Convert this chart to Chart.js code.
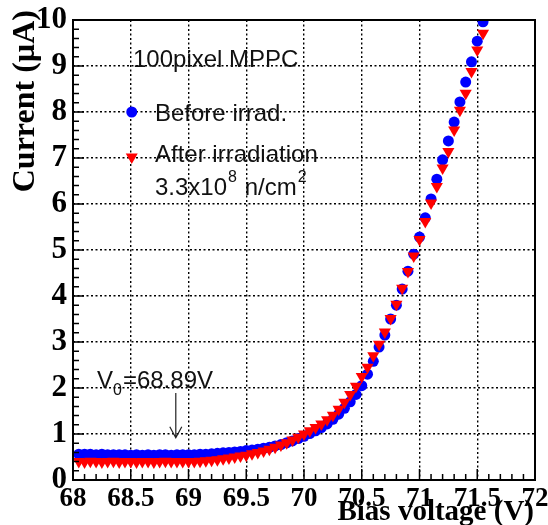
<!DOCTYPE html>
<html>
<head>
<meta charset="utf-8">
<script src="https://cdn.jsdelivr.net/npm/chart.js@4.4.1/dist/chart.umd.min.js"></script>
<style>
  html, body { margin: 0; padding: 0; background: #fff; }
  #wrap { width: 548px; height: 525px; position: relative; }
</style>
</head>
<body>
<div id="wrap"><canvas id="ivChart"></canvas></div>
<script>
// bias voltage (V)
const voltage = [
  68.05, 68.10, 68.15, 68.20, 68.25, 68.30, 68.35, 68.40, 68.45, 68.50,
  68.55, 68.60, 68.65, 68.70, 68.75, 68.80, 68.85, 68.90, 68.95,
  69.00, 69.05, 69.10, 69.15, 69.20, 69.25, 69.30, 69.35, 69.40, 69.45,
  69.50, 69.55, 69.60, 69.65, 69.70, 69.75, 69.80, 69.85, 69.90, 69.95,
  70.00, 70.05, 70.10, 70.15, 70.20, 70.25, 70.30, 70.35, 70.40, 70.45,
  70.50, 70.55, 70.60, 70.65, 70.70, 70.75, 70.80, 70.85, 70.90, 70.95,
  71.00, 71.05, 71.10, 71.15, 71.20, 71.25, 71.30, 71.35, 71.40, 71.45,
  71.50, 71.55
];
// current (uA) before irradiation
const beforeIrrad = [
  0.56, 0.56, 0.56, 0.55, 0.56, 0.55, 0.55, 0.55, 0.55, 0.54,
  0.55, 0.54, 0.55, 0.54, 0.55, 0.55, 0.54, 0.55, 0.55,
  0.55, 0.55, 0.56, 0.56, 0.57, 0.58, 0.59, 0.60, 0.61, 0.62,
  0.64, 0.65, 0.67, 0.69, 0.71, 0.74, 0.77, 0.81, 0.85, 0.90,
  0.95, 1.01, 1.07, 1.14, 1.22, 1.32, 1.43, 1.56, 1.70, 1.86,
  2.05, 2.30, 2.58, 2.89, 3.15, 3.50, 3.80, 4.15, 4.54, 4.91,
  5.28, 5.70, 6.11, 6.54, 6.96, 7.37, 7.78, 8.22, 8.65, 9.09,
  9.54, 9.96
];
// current (uA) after 3.3e8 n/cm2
const afterIrrad = [
  0.40, 0.39, 0.41, 0.40, 0.39, 0.40, 0.41, 0.39, 0.40, 0.40,
  0.39, 0.40, 0.40, 0.39, 0.40, 0.41, 0.40, 0.40, 0.40,
  0.40, 0.40, 0.41, 0.42, 0.43, 0.44, 0.46, 0.48, 0.50, 0.52,
  0.54, 0.57, 0.60, 0.63, 0.67, 0.71, 0.76, 0.81, 0.87, 0.93,
  1.00, 1.07, 1.14, 1.22, 1.31, 1.41, 1.54, 1.69, 1.86, 2.04,
  2.25, 2.45, 2.70, 2.95, 3.22, 3.51, 3.82, 4.17, 4.53, 4.87,
  5.23, 5.62, 6.02, 6.38, 6.78, 7.14, 7.61, 8.04, 8.41, 8.88,
  9.35, 9.71
];
const xRange = [68, 72];
const yRange = [0, 10];
const breakdownV = 68.89;

const sans = '"Liberation Sans", Arial, sans-serif';
const serif = '"Liberation Serif", "Times New Roman", serif';

function toPoints(ys) {
  return voltage.map((v, i) => ({ x: v, y: ys[i] }));
}

// ROOT-like frame: inner ticks, box, labels and the V0 arrow
const rootStyle = {
  id: 'rootStyle',
  afterDatasetsDraw(chart) {
    const { ctx, chartArea: a, scales: { x, y } } = chart;
    ctx.save();
    ctx.strokeStyle = '#000';
    ctx.lineWidth = 1.5;
    ctx.beginPath();
    for (let i = 0; i <= 40; i++) {
      const px = x.getPixelForValue(xRange[0] + i * 0.1);
      const len = i % 5 === 0 ? 11 : 6;
      ctx.moveTo(px, a.bottom);
      ctx.lineTo(px, a.bottom - len);
    }
    for (let i = 0; i <= 50; i++) {
      const py = y.getPixelForValue(yRange[0] + i * 0.2);
      const len = i % 5 === 0 ? 11 : 6;
      ctx.moveTo(a.left, py);
      ctx.lineTo(a.left + len, py);
    }
    ctx.stroke();
    ctx.lineWidth = 2;
    ctx.strokeRect(a.left, a.top, a.width, a.height);
    ctx.restore();
  },
  afterDraw(chart) {
    const { ctx, chartArea: a, scales: { x, y } } = chart;
    ctx.save();
    ctx.fillStyle = '#000';
    ctx.textBaseline = 'alphabetic';

    // axis titles
    ctx.font = 'bold 32px ' + serif;
    ctx.save();
    ctx.translate(34, 10);
    ctx.rotate(-Math.PI / 2);
    ctx.textAlign = 'right';
    ctx.fillText('Current (\u00b5A)', 0, 0);
    ctx.restore();
    ctx.textAlign = 'right';
    ctx.font = 'bold 29px ' + serif;
    ctx.fillText('Bias voltage (V)', a.right - 1, 520);

    // text box
    ctx.textAlign = 'left';
    ctx.font = '24px ' + sans;
    ctx.fillStyle = '#111';
    ctx.fillText('100pixel MPPC', 133, 67);
    ctx.fillText('Before irrad.', 155, 121);
    ctx.fillText('After irradiation', 155, 162);
    let tx = 155;
    ctx.fillText('3.3x10', tx, 195);
    tx += ctx.measureText('3.3x10').width;
    ctx.font = '16px ' + sans;
    ctx.fillText('8', tx + 1, 182);
    tx += ctx.measureText('8').width + 2;
    ctx.font = '24px ' + sans;
    ctx.fillText(' n/cm', tx, 195);
    tx += ctx.measureText(' n/cm').width;
    ctx.font = '16px ' + sans;
    ctx.fillText('2', tx + 1, 182);

    // legend markers
    const mx = x.getPixelForValue(68.5) + 1;
    ctx.fillStyle = '#0000ff';
    ctx.beginPath();
    ctx.arc(mx, y.getPixelForValue(8), 5.5, 0, Math.PI * 2);
    ctx.fill();
    const ty = y.getPixelForValue(7) - 1;
    ctx.fillStyle = '#ff0000';
    ctx.beginPath();
    ctx.moveTo(mx - 6, ty - 3.5);
    ctx.lineTo(mx + 6, ty - 3.5);
    ctx.lineTo(mx, ty + 7);
    ctx.closePath();
    ctx.fill();

    // V0 label and arrow
    ctx.fillStyle = '#111';
    ctx.font = '24px ' + sans;
    let vx = 97;
    ctx.fillText('V', vx, 388);
    vx += ctx.measureText('V').width;
    ctx.font = '16px ' + sans;
    ctx.fillText('0', vx, 395);
    vx += ctx.measureText('0').width + 1;
    ctx.font = '24px ' + sans;
    ctx.fillText('=' + breakdownV.toFixed(2) + 'V', vx, 388);

    const ax = x.getPixelForValue(breakdownV);
    const top = y.getPixelForValue(1.89);
    const tip = y.getPixelForValue(0.92);
    ctx.strokeStyle = '#222';
    ctx.lineWidth = 1.2;
    ctx.beginPath();
    ctx.moveTo(ax, top);
    ctx.lineTo(ax, tip);
    ctx.moveTo(ax - 6, tip - 11);
    ctx.lineTo(ax, tip);
    ctx.lineTo(ax + 6, tip - 11);
    ctx.stroke();
    ctx.restore();
  }
};

new Chart(document.getElementById('ivChart'), {
  type: 'scatter',
  data: {
    datasets: [
      {
        label: 'After irradiation',
        data: toPoints(afterIrrad),
        pointStyle: 'triangle',
        pointRotation: 180,
        pointRadius: 7,
        pointBackgroundColor: '#ff0000',
        pointBorderColor: '#ff0000',
        pointBorderWidth: 0,
        order: 0
      },
      {
        label: 'Before irrad.',
        data: toPoints(beforeIrrad),
        pointStyle: 'circle',
        pointRadius: 5.5,
        pointBackgroundColor: '#0000ff',
        pointBorderColor: '#0000ff',
        pointBorderWidth: 0,
        order: 1
      }
    ]
  },
  options: {
    responsive: true,
    maintainAspectRatio: false,
    animation: false,
    events: [],
    layout: { padding: { top: 20, right: 13, left: 0, bottom: 0 } },
    plugins: {
      legend: { display: false },
      tooltip: { enabled: false }
    },
    scales: {
      x: {
        type: 'linear',
        min: xRange[0],
        max: xRange[1],
        ticks: {
          stepSize: 0.5,
          autoSkip: false,
          maxRotation: 0,
          padding: 3,
          color: '#000',
          font: { family: serif, weight: 'bold', size: 27 },
          callback: (v) => String(Math.round(v * 10) / 10)
        },
        grid: { color: '#000', lineWidth: 1.4, drawTicks: false },
        border: { display: false, dash: [2, 2.5] },
        afterFit(s) { s.height = 45; s.paddingLeft = 0; s.paddingRight = 0; }
      },
      y: {
        min: yRange[0],
        max: yRange[1],
        ticks: {
          stepSize: 1,
          padding: 6,
          color: '#000',
          font: { family: serif, weight: 'bold', size: 31 }
        },
        grid: { color: '#000', lineWidth: 1.4, drawTicks: false },
        border: { display: false, dash: [2, 2.5] },
        afterFit(s) { s.width = 73; s.paddingTop = 0; s.paddingBottom = 0; }
      }
    }
  },
  plugins: [rootStyle]
});
</script>
</body>
</html>
